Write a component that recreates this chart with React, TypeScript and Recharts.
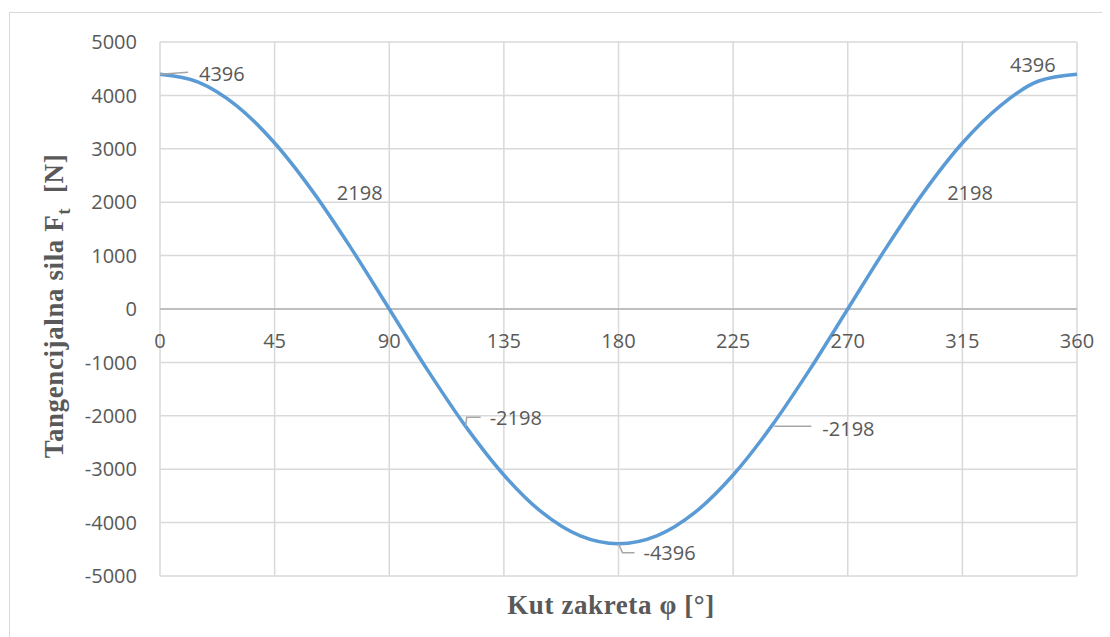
import { CartesianGrid, LabelList, Line, LineChart, ReferenceLine, XAxis, YAxis } from "recharts";

// crank angle φ [°] and tangential force Ft [N]
const angles = [0, 15, 30, 45, 60, 75, 90, 105, 120, 135, 150, 165, 180, 195, 210, 225, 240, 255, 270, 285, 300, 315, 330, 345, 360];
const force = [4396, 4250, 3810, 3108, 2198, 1140, 0, -1140, -2198, -3108, -3810, -4250, -4396, -4250, -3810, -3108, -2198, -1140, 0, 1140, 2198, 3108, 3810, 4270, 4396];
const xTicks = [0, 45, 90, 135, 180, 225, 270, 315, 360];
const yTicks = [-5000, -4000, -3000, -2000, -1000, 0, 1000, 2000, 3000, 4000, 5000];

const rows = angles.map((a, i) => ({ phi: a, ft: force[i] }));

const GREY = "#595959";
const FONT = "'Open Sans', 'Liberation Sans', sans-serif";
const PLOT_H = 534;

// where each shown data label sits relative to its point (Excel-style callouts)
const placements: Record<number, { dx: number; dy: number; leader?: string }> = {
  0: { dx: 39, dy: -1, leader: "0,0 28,-2" },
  4: { dx: 24, dy: 1 },
  8: { dx: 24, dy: -9, leader: "0,0 1,-9 15,-9" },
  12: { dx: 25, dy: 9, leader: "0,0 4,9 16,9" },
  16: { dx: 51, dy: 2, leader: "3,0 40,0" },
  20: { dx: 23, dy: 1 },
  24: { dx: -67, dy: -10 },
};

function PointLabel(props: any) {
  const { index, value } = props;
  const p = placements[index];
  if (!p) return null;
  const x = props.x ?? props.viewBox?.x;
  const y = props.y ?? props.viewBox?.y;
  return (
    <g>
      {p.leader && (
        <polyline
          points={p.leader
            .split(" ")
            .map((pt) => {
              const [a, b] = pt.split(",").map(Number);
              return `${x + a},${y + b}`;
            })
            .join(" ")}
          fill="none"
          stroke="#a6a6a6"
          strokeWidth={1.5}
        />
      )}
      <text x={x + p.dx} y={y + p.dy} dominantBaseline="central" fill={GREY} fontSize={20} fontFamily={FONT}>
        {value}
      </text>
    </g>
  );
}

// x tick labels sit just under the zero line, not at the bottom of the plot
function XTick(props: any) {
  const { x, y, payload } = props;
  return (
    <text x={x} y={y - PLOT_H / 2 + 31} textAnchor="middle" dominantBaseline="central" fill={GREY} fontSize={20} fontFamily={FONT}>
      {payload.value}
    </text>
  );
}

export default function App() {
  return (
    <div style={{ position: "relative", width: 1102, height: 629, background: "#fff" }}>
      <div
        style={{
          position: "absolute",
          left: 1,
          top: 4,
          right: 0,
          bottom: 0,
          borderLeft: "1.5px solid #d9d9d9",
          borderTop: "1.5px solid #d9d9d9",
        }}
      />
      <LineChart width={1102} height={629} data={rows} margin={{ top: 34, right: 33, bottom: 60, left: 72 }}>
        <CartesianGrid stroke="#d9d9d9" strokeWidth={1.5} />
        <XAxis
          dataKey="phi"
          type="number"
          domain={[0, 360]}
          ticks={xTicks}
          interval={0}
          height={1}
          tickSize={0}
          tickMargin={0}
          axisLine={false}
          tickLine={false}
          tick={(p: any) => <XTick {...p} />}
        />
        <YAxis
          type="number"
          domain={[-5000, 5000]}
          ticks={yTicks}
          interval={0}
          width={80}
          tickSize={0}
          tickMargin={23}
          axisLine={false}
          tickLine={false}
          tick={{ fill: GREY, fontSize: 20, fontFamily: FONT }}
        />
        <ReferenceLine y={0} stroke="#bfbfbf" strokeWidth={2} />
        <Line
          type="monotone"
          dataKey="ft"
          stroke="#5b9bd5"
          strokeWidth={3.5}
          dot={false}
          isAnimationActive={false}
        >
          <LabelList dataKey="ft" content={<PointLabel />} />
        </Line>
      </LineChart>
      <div
        style={{
          position: "absolute",
          left: 603,
          top: 597,
          transform: "translate(-50%, -50%)",
          whiteSpace: "nowrap",
          fontFamily: "'Liberation Serif', serif",
          fontWeight: "bold",
          fontSize: 27,
          letterSpacing: 0.6,
          color: GREY,
        }}
      >
        Kut zakreta φ [°]
      </div>
      <div
        style={{
          position: "absolute",
          left: 49,
          top: 298,
          transform: "translate(-50%, -50%) rotate(-90deg)",
          whiteSpace: "nowrap",
          fontFamily: "'Liberation Serif', serif",
          fontWeight: "bold",
          fontSize: 27,
          letterSpacing: 0.6,
          color: GREY,
        }}
      >
        Tangencijalna sila F<sub style={{ fontSize: 19 }}>t</sub>&nbsp; [N]
      </div>
    </div>
  );
}
